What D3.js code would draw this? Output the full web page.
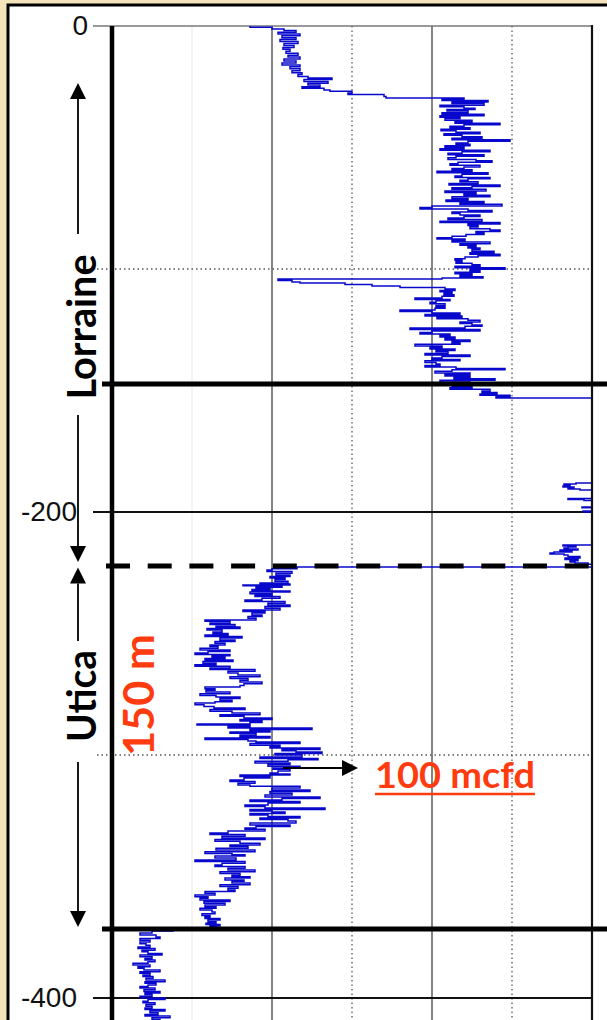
<!DOCTYPE html>
<html>
<head>
<meta charset="utf-8">
<script src="https://cdn.jsdelivr.net/npm/d3@7"></script>
<style>
  html, body { margin: 0; padding: 0; background: #f4e4bc; }
  svg { display: block; }
</style>
</head>
<body>
<div id="chart"></div>
<script>
// depth below top of log (m) and log reading
const upperLog = [
  [0,69],[0.5,80],[1.2,86],[1.9,92],[2.6,83],[3.3,94],[4.0,85],[4.8,92],[5.6,84],[6.4,93],[7.2,86],[8.0,91],
  [8.8,85.5],[9.6,89],[10.4,87],[11.2,93],[12.0,88],[12.8,94],[13.6,86],[14.4,92],[15.2,85],[16.0,94],[16.8,89],
  [17.6,94],[18.4,90],[19.2,95],[20.0,93],[20.8,98],[21.4,110],[22.0,96],[22.8,108],[23.6,98],[24.3,104],[25.0,95],
  [25.6,106],[26.3,109],[26.9,120],[27.6,118],[28.2,136],[29.0,137],[29.6,176],[30.2,165],[30.7,188],[31.3,170],
  [31.9,186],[32.6,164],[33.2,176],[33.8,181.5],[34.4,167.5],[35.0,178],[35.7,165],[36.3,186],[36.9,164],[37.5,174],
  [38.1,166.5],[38.8,180],[39.4,171.5],[40.0,194],[40.6,176],[41.3,169],[41.9,179],[42.5,164.5],[43.1,172],[43.7,184],
  [44.3,166],[45.0,175],[45.6,185],[46.2,170],[46.8,199],[47.4,178],[48.1,172],[48.7,179],[49.3,166.5],[49.9,176],
  [50.5,164],[51.1,189],[51.8,175],[52.4,168],[53.0,186],[53.6,172],[54.2,168],[54.9,182],[55.5,190],[56.1,173],
  [56.7,169],[57.3,184],[58.0,176],[58.6,170],[59.2,180],[59.8,162.5],[60.4,188],[61.0,175],[61.7,171.5],[62.3,189],
  [62.9,178],[63.5,174],[64.1,183],[64.8,168.5],[65.4,194],[66.0,180],[66.6,170],[67.2,187],[67.9,166.5],[68.5,182],
  [69.1,176],[69.7,189],[70.3,170],[71.0,178],[71.6,167],[72.2,186],[72.8,174],[73.4,195],[74.1,160],[74.7,154],
  [75.3,178],[75.9,190],[76.5,170],[77.2,174],[77.8,184],[78.4,176],[79.0,168],[79.6,185],[80.3,164],[80.9,194],
  [81.5,178],[82.1,183],[82.7,179],[83.4,189],[84.0,194],[84.6,182],[85.2,186],[85.8,177],[86.5,170],[87.1,162.5],
  [87.7,176.5],[88.3,170],[88.9,189],[89.6,174],[90.2,182],[90.8,178],[91.4,184],[92.0,180],[92.7,191],[93.3,179],
  [93.9,194],[94.5,183],[95.1,176.5],[95.8,171.5],[96.4,175],[97.0,172],[97.6,180],[98.2,184],[98.9,171.5],
  [99.5,196.5],[100.1,179],[100.7,184],[101.3,171.5],[102.0,180],[102.6,174],[103.2,185.5],[103.7,165],[104.1,83],
  [104.7,90],[105.3,94],[105.8,116.5],[106.4,130],[107.0,144],[107.6,166.5],[108.2,171.5],[108.8,164],[109.4,170],
  [110.0,166],[110.6,171],[111.2,165],[111.9,151.5],[112.5,169],[113.1,162],[113.7,159],[114.3,166.5],[115.0,162],
  [115.6,166.5],[116.2,161.5],[116.9,144],[117.5,160],[118.1,174],[118.7,156.5],[119.3,175],[119.9,162.5],[120.5,178],
  [121.1,184],[121.8,174],[122.4,180],[123.0,185],[123.6,176.5],[124.3,149],[124.9,184],[125.5,160],[126.1,154],
  [126.7,169],[127.4,164],[128.0,171.5],[128.6,166.5],[129.2,179],[129.8,170],[130.4,174],[131.0,151.5],[131.7,165],
  [132.3,159],[132.9,171.5],[133.5,162],[134.1,168],[134.8,156.5],[135.4,179],[136.0,165],[136.6,160],[137.2,174],
  [137.8,156.5],[138.5,162],[139.1,164],[139.7,156.5],[140.3,172],[140.9,196.5],[141.5,170],[142.1,161.5],[142.8,179],
  [143.4,166.5],[144.0,179],[144.6,171],[145.2,191.5],[145.8,164],[146.5,179],[147.1,159],[147.7,170],[148.3,180],
  [148.9,169],[149.5,189],[150.2,185],[150.8,192.5],[151.4,184],[152.0,199],[152.6,192]
];

// mostly off scale to the right
const transitionLog = [
  [153.1,262],[188.1,232],[188.5,226],[188.9,229],[189.3,225.5],[189.7,231],[190.1,228],[190.5,234],[190.9,262],
  [194.4,228],[194.9,236],[195.3,262],[197.9,235],[198.3,262],[199.6,235.5],[200.0,262],[213.6,225.5],[214.0,232],
  [214.4,228],[214.8,226],[215.2,233],[215.6,224],[216.0,230],[216.5,221],[216.9,219],[217.3,226],[217.7,228],
  [218.3,234],[218.9,226.5],[219.5,233],[220.1,229],[220.6,231.5],[221.0,238],[221.5,262]
];

const uticaLog = [
  [222.6,92.5],[223.4,80],[223.9,77.5],[224.5,90],[225.2,82],[225.9,89],[226.5,79],[227.2,86.5],[227.8,81.5],
  [228.5,88],[229.2,74],[229.6,89],[230.0,65.5],[230.4,85],[231.0,72],[231.3,79],[231.9,70],[232.5,89],[232.9,69],
  [233.6,80],[234.2,71.5],[234.8,84],[235.5,75],[236.2,66.5],[236.8,86.5],[237.5,78],[238.3,89],[238.9,76.5],
  [239.6,84],[240.3,65.5],[240.9,76.5],[241.6,70],[242.4,75],[243.0,68],[243.7,72],[244.4,46.5],[245.0,59],
  [245.7,49],[246.3,61.5],[247.0,52],[247.3,64],[247.9,47.5],[248.6,55],[249.4,50.5],[250.0,58],[250.6,46.5],
  [251.2,65],[251.9,54],[252.7,61.5],[253.3,51.5],[254.0,56.5],[254.7,49],[255.4,53],[256.1,44],[256.8,59],
  [257.4,48],[258.0,41.5],[258.6,59],[259.2,50],[259.7,56.5],[260.3,46.5],[260.9,60.5],[261.5,45.5],[262.2,52],
  [262.9,41.5],[263.5,59],[264.2,49],[264.8,71.5],[265.5,58],[266.3,63],[267.1,74],[267.8,59],[268.5,68],[269.2,64],
  [270.0,75],[270.7,66],[271.4,64],[272.0,46.5],[272.7,51.5],[273.4,47],[274.1,59],[274.8,44],[275.5,52],[276.1,64],
  [276.8,54],[277.5,60],[278.1,51.5],[278.6,41.5],[279.3,46],[280.0,51],[280.7,66.5],[281.3,49],[282.0,60],
  [282.7,74],[283.4,54],[284.1,66],[284.8,80],[285.4,64],[286.0,75],[286.6,69],[287.2,42.5],[287.7,69],[288.3,58],
  [288.9,100],[289.5,69],[290.0,79],[290.5,59],[291.1,72],[291.8,64],[292.4,79],[293.0,46.5],[293.6,68],[294.2,72],
  [294.7,94],[295.3,69],[296.0,84],[296.6,79],[297.1,104],[297.7,85],[298.3,92],[298.8,105],[299.4,81.5],[300.0,95],
  [300.8,74],[301.4,103],[302.0,88],[302.6,71.5],[303.3,89],[303.9,78],[304.6,94],[305.3,80.5],[305.9,89],[306.6,83],
  [307.4,79],[307.8,89],[308.2,64],[308.8,79],[309.5,66],[310.3,59],[310.9,71.5],[311.6,63],[312.3,69],[312.9,94],
  [313.6,80],[314.4,99],[315.0,79],[315.7,90],[316.5,76.5],[317.3,104],[317.9,85],[318.5,69],[319.1,94],[319.8,78],
  [320.6,66.5],[321.2,76.5],[321.8,106.5],[322.4,69],[323.0,80],[323.5,86.5],[324.1,69],[324.7,78],[325.3,94],
  [325.9,74],[326.5,88],[327.2,92],[328.0,69],[328.8,89],[329.4,72],[330.0,66.5],[330.6,76.5],[331.3,58],[332.1,49],
  [332.7,66.5],[333.4,55],[334.2,76.5],[334.8,51.5],[335.5,64],[336.3,74],[337.0,59],[337.7,68],[338.4,52],
  [339.1,71.5],[339.8,46.5],[340.5,60],[341.0,66.5],[341.6,51.5],[342.4,62],[343.2,41.5],[343.8,66.5],[344.5,55],
  [345.3,51.5],[345.9,66.5],[346.6,58],[347.3,71.5],[348.0,54],[348.8,64],[349.5,60],[350.1,69],[350.6,56.5],
  [351.4,66],[352.0,60],[352.7,69],[353.4,54],[354.1,63],[354.8,58],[355.6,61.5],[356.2,46.5],[356.9,51.5],
  [357.6,41.5],[358.3,48],[359.0,44],[359.7,59],[360.3,46],[361.0,56.5],[361.7,46.5],[362.4,52],[363.1,44],
  [363.8,50],[364.6,51.5],[365.3,45],[366.0,49],[366.7,46.5],[367.3,54],[367.9,48],[368.6,52],[369.2,47],[369.8,54],
  [370.4,49],[371.0,52]
];

const lowerLog = [
  [371.6,30.5],[372.4,20],[373.3,14],[374.1,22],[374.9,24],[375.5,14],[376.2,19],[377.0,14],[377.7,17],[378.3,19],
  [379.0,13],[379.6,21.5],[380.3,15],[381.0,18],[381.7,25],[382.3,14],[383.0,20],[383.7,16.5],[384.4,21.5],
  [385.1,18],[385.7,10.5],[386.4,19],[387.1,13],[387.8,16],[388.5,24],[389.2,14],[389.8,19],[390.5,15.5],
  [391.2,20.5],[391.9,17],[392.6,26.5],[393.3,16.5],[393.9,22],[394.6,18],[395.3,14],[395.9,21.5],[396.6,16],
  [397.3,24],[397.9,16.5],[398.6,20],[399.3,14],[400.0,26.5],[400.6,18],[401.3,15.5],[402.0,21.5],[402.7,17],
  [403.4,20],[404.1,16.5],[404.7,26.5],[405.4,19],[406.1,23],[406.8,16.5],[407.4,29],[408.1,20],[408.8,24],[409.5,18]
];

const xGrid = [40, 80, 120, 160, 200];
const yMajor = [0, -200, -400];
const yMinor = [-100, -300];
const formationTops = [147.3, 222.2, 371.6];   // Lorraine base, Utica top, Utica base

const width = 607, height = 1020;
const x = d3.scaleLinear().domain([0, 240]).range([112, 592]);
const y = d3.scaleLinear().domain([0, -400]).range([26, 998]);

const svg = d3.select('#chart').append('svg')
    .attr('width', width)
    .attr('height', height);

// beige page + framed white panel
svg.append('rect').attr('width', width).attr('height', height).attr('fill', '#f4e4bc');
svg.append('rect')
    .attr('x', 8).attr('y', 5)
    .attr('width', 700).attr('height', 1100)
    .attr('fill', '#fff')
    .attr('stroke', '#000')
    .attr('stroke-width', 3);

svg.append('clipPath').attr('id', 'plot-clip')
  .append('rect')
    .attr('x', x(0)).attr('y', y(0))
    .attr('width', x(240) - x(0)).attr('height', height - y(0));

// vertical grid
svg.selectAll('.vgrid')
  .data(xGrid)
  .enter().append('line')
    .attr('class', 'vgrid')
    .attr('x1', d => x(d)).attr('x2', d => x(d))
    .attr('y1', y(0)).attr('y2', height)
    .attr('stroke', (d, i) => i === 0 ? '#eeeeee' : '#666')
    .attr('stroke-width', d => d % 80 === 0 ? 1.6 : 1.4)
    .attr('stroke-dasharray', (d, i) => (i === 2 || i === 4) ? '1.5,3' : null);

// minor (dotted) horizontal grid
svg.selectAll('.hminor')
  .data(yMinor)
  .enter().append('line')
    .attr('class', 'hminor')
    .attr('x1', 97).attr('x2', x(240))
    .attr('y1', d => y(d)).attr('y2', d => y(d))
    .attr('stroke', '#555')
    .attr('stroke-width', 1.4)
    .attr('stroke-dasharray', '1.5,3');

// major horizontal grid
svg.selectAll('.hmajor')
  .data(yMajor)
  .enter().append('line')
    .attr('class', 'hmajor')
    .attr('x1', 93).attr('x2', x(240))
    .attr('y1', d => y(d)).attr('y2', d => y(d))
    .attr('stroke', d => d === 0 ? '#777' : '#111')
    .attr('stroke-width', d => d === 0 ? 1.6 : 2.2);

// the log trace
const trace = upperLog.concat(transitionLog, uticaLog, lowerLog);
const line = d3.line()
    .x(d => x(d[1]))
    .y(d => y(-d[0]))
    .curve(d3.curveStepBefore);

svg.append('path')
    .datum(trace)
    .attr('clip-path', 'url(#plot-clip)')
    .attr('fill', 'none')
    .attr('stroke', '#0808cc')
    .attr('stroke-width', 1.5)
    .attr('d', line);

// right border + left axis
svg.append('line')
    .attr('x1', x(240)).attr('x2', x(240))
    .attr('y1', y(0) - 1).attr('y2', height)
    .attr('stroke', '#111').attr('stroke-width', 2.2);

const yAxis = d3.axisLeft(y)
    .tickValues(yMajor)
    .tickSize(0)
    .tickPadding(35)
    .tickFormat(d => String(d));

const axisG = svg.append('g')
    .attr('transform', `translate(${x(0)},0)`)
    .call(yAxis);
axisG.select('.domain').remove();
axisG.selectAll('text')
    .attr('font-family', '"Liberation Sans", Arial, sans-serif')
    .attr('font-size', 28)
    .attr('fill', '#111')
    .attr('dx', d => d === 0 ? 11 : 0);

svg.append('line')
    .attr('x1', x(0)).attr('x2', x(0))
    .attr('y1', y(0)).attr('y2', height)
    .attr('stroke', '#000').attr('stroke-width', 4.5);

// formation boundaries
svg.selectAll('.top')
  .data(formationTops)
  .enter().append('line')
    .attr('class', 'top')
    .attr('x1', (d, i) => i === 1 ? 106 : 102)
    .attr('x2', (d, i) => i === 1 ? 590 : width)
    .attr('y1', d => y(-d)).attr('y2', d => y(-d))
    .attr('stroke', '#000')
    .attr('stroke-width', 5)
    .attr('stroke-dasharray', (d, i) => i === 1 ? '24,17.7' : null);

// annotations
const red = '#ff3c0f';
const arrowX = 78;

const vArrow = (yFrom, yTip) => {
  const dir = yTip > yFrom ? 1 : -1;
  const base = yTip - dir * 16;
  svg.append('line')
      .attr('x1', arrowX).attr('x2', arrowX)
      .attr('y1', yFrom).attr('y2', base)
      .attr('stroke', '#000').attr('stroke-width', 1.8);
  svg.append('path')
      .attr('d', `M${arrowX},${yTip}L${arrowX - 8},${base}L${arrowX + 8},${base}Z`)
      .attr('fill', '#000');
};

// Lorraine span
vArrow(234, y(-23.5));
vArrow(415, y(-220.6));
// Utica span
vArrow(641, y(-222.8));
vArrow(762, y(-370.8));

const label = (txt, cx, cy, size, len, color) =>
  svg.append('text')
      .attr('transform', `translate(${cx},${cy}) rotate(-90)`)
      .attr('text-anchor', 'middle')
      .attr('font-family', 'Lato, "Open Sans", sans-serif')
      .attr('font-weight', 'bold')
      .attr('font-size', size)
      .attr('fill', color)
      .attr('textLength', len)
      .attr('lengthAdjust', 'spacingAndGlyphs')
      .text(txt);

label('Lorraine', 96, 327, 40, 145, '#000');
label('Utica', 96, 696, 40, 92, '#000');
label('150 m', 154, 695, 42, 122, red);

// 100 mcfd pointer
svg.append('line')
    .attr('x1', 283).attr('x2', 343)
    .attr('y1', 768).attr('y2', 768)
    .attr('stroke', '#000').attr('stroke-width', 2);
svg.append('path')
    .attr('d', 'M358,768L342,760L342,776Z')
    .attr('fill', '#000');

svg.append('text')
    .attr('x', 375).attr('y', 788)
    .attr('font-family', 'Lato, "Open Sans", sans-serif')
    .attr('font-weight', 'bold')
    .attr('font-size', 36)
    .attr('fill', red)
    .attr('textLength', 160)
    .attr('lengthAdjust', 'spacingAndGlyphs')
    .text('100 mcfd');
svg.append('line')
    .attr('x1', 375).attr('x2', 535)
    .attr('y1', 794).attr('y2', 794)
    .attr('stroke', red).attr('stroke-width', 2.5);
</script>
</body>
</html>
